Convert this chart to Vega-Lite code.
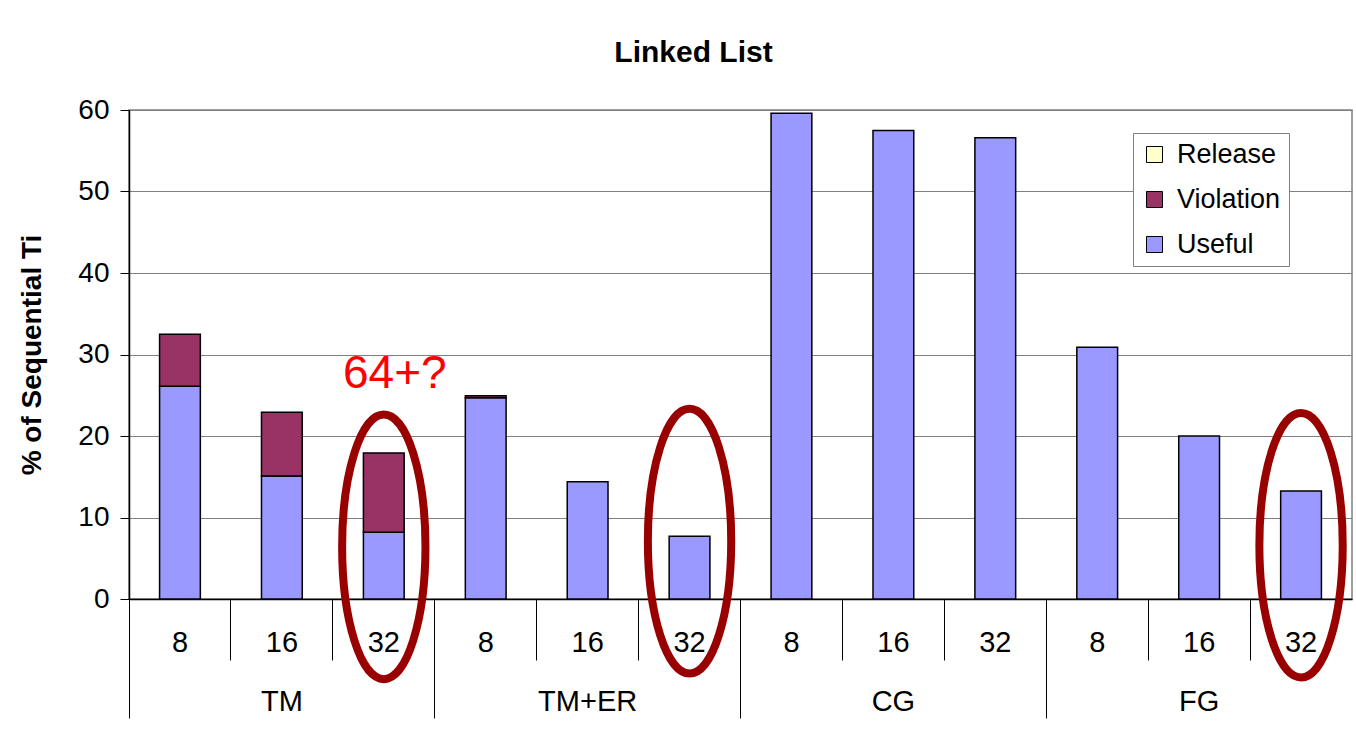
{
  "$schema": "https://vega.github.io/schema/vega-lite/v6.json",
  "autosize": "none",
  "width": 1223,
  "height": 489,
  "padding": {"left": 129, "top": 110, "right": 4, "bottom": 147},
  "background": "white",
  "config": {
    "font": "Liberation Sans",
    "view": {"stroke": "#808080", "strokeWidth": 1.5}
  },
  "title": {
    "text": "Linked List",
    "font": "Liberation Sans",
    "fontSize": 30,
    "fontWeight": "bold",
    "color": "black",
    "anchor": "middle",
    "frame": "group",
    "dx": -47,
    "baseline": "alphabetic",
    "offset": 4
  },
  "datasets": {
    "bars": [
      {"key": "TM|8", "series": "Useful", "value": 26.1},
      {"key": "TM|8", "series": "Violation", "value": 6.4},
      {"key": "TM|16", "series": "Useful", "value": 15.1},
      {"key": "TM|16", "series": "Violation", "value": 7.8},
      {"key": "TM|32", "series": "Useful", "value": 8.2},
      {"key": "TM|32", "series": "Violation", "value": 9.7},
      {"key": "TM+ER|8", "series": "Useful", "value": 24.7},
      {"key": "TM+ER|8", "series": "Violation", "value": 0.25},
      {"key": "TM+ER|16", "series": "Useful", "value": 14.4},
      {"key": "TM+ER|32", "series": "Useful", "value": 7.7},
      {"key": "CG|8", "series": "Useful", "value": 59.6},
      {"key": "CG|16", "series": "Useful", "value": 57.5},
      {"key": "CG|32", "series": "Useful", "value": 56.6},
      {"key": "FG|8", "series": "Useful", "value": 30.9},
      {"key": "FG|16", "series": "Useful", "value": 20.0},
      {"key": "FG|32", "series": "Useful", "value": 13.25}
    ],
    "groups": [
      {"group": "TM"}, {"group": "TM+ER"}, {"group": "CG"}, {"group": "FG"}
    ],
    "ellipses": [
      {"key": "TM|32", "yc": 6.4},
      {"key": "TM+ER|32", "yc": 7.1},
      {"key": "FG|32", "yc": 6.6}
    ],
    "notes": [
      {"key": "TM|32", "y": 27.6, "label": "64+?"}
    ]
  },
  "resolve": {"scale": {"x": "independent"}, "axis": {"x": "independent"}},
  "layer": [
    {
      "layer": [
        {
          "data": {"name": "bars"},
          "mark": {"type": "bar", "width": {"band": 0.4}, "stroke": "black", "strokeWidth": 1.5},
          "encoding": {
            "x": {
              "field": "key",
              "type": "nominal",
              "scale": {
                "domain": ["TM|8", "TM|16", "TM|32", "TM+ER|8", "TM+ER|16", "TM+ER|32", "CG|8", "CG|16", "CG|32", "FG|8", "FG|16", "FG|32"],
                "paddingInner": 0,
                "paddingOuter": 0
              },
              "axis": {
                "orient": "bottom",
                "title": null,
                "labelExpr": "split(datum.value, '|')[1]",
                "labelAngle": 0,
                "labelFontSize": 29,
                "labelColor": "black",
                "labelPadding": -32,
                "bandPosition": 0,
                "tickSize": 61,
                "tickColor": "black",
                "tickWidth": 1,
                "domainColor": "black",
                "domainWidth": 1.5,
                "grid": false
              }
            },
            "y": {
              "field": "value",
              "type": "quantitative",
              "stack": "zero",
              "scale": {"domain": [0, 60], "nice": false},
              "axis": {
                "values": [0, 10, 20, 30, 40, 50, 60],
                "title": "% of Sequential Ti",
                "titleFontSize": 28,
                "titleFontWeight": "bold",
                "titleColor": "black",
                "titlePadding": 31,
                "labelFontSize": 28,
                "labelColor": "black",
                "labelPadding": 11,
                "tickSize": 9,
                "tickColor": "black",
                "domainColor": "black",
                "domainWidth": 1.5,
                "gridColor": "#808080",
                "gridWidth": 1.2
              }
            },
            "color": {
              "field": "series",
              "type": "nominal",
              "scale": {
                "domain": ["Release", "Violation", "Useful"],
                "range": ["#FFFFCC", "#993366", "#9999FF"]
              },
              "legend": {
                "orient": "none",
                "legendX": 1004,
                "legendY": 23,
                "title": null,
                "fillColor": "white",
                "strokeColor": "#808080",
                "padding": 8,
                "symbolType": "square",
                "symbolSize": 256,
                "symbolStrokeColor": "black",
                "symbolStrokeWidth": 1,
                "symbolOpacity": 1,
                "labelFontSize": 27,
                "labelColor": "black",
                "labelOffset": 9,
                "rowPadding": 17
              }
            },
            "order": {"field": "series", "sort": "ascending"}
          }
        },
        {
          "data": {"name": "ellipses"},
          "mark": {
            "type": "point",
            "shape": "M 0,-1 A 0.315,1 0 1,1 0,1 A 0.315,1 0 1,1 0,-1 Z",
            "filled": false,
            "color": "#990000",
            "strokeWidth": 8,
            "size": 70000,
            "opacity": 1
          },
          "encoding": {
            "x": {"field": "key", "type": "nominal"},
            "y": {"field": "yc", "type": "quantitative"}
          }
        },
        {
          "data": {"name": "notes"},
          "mark": {
            "type": "text",
            "fontSize": 46,
            "color": "#FF0000",
            "align": "center",
            "baseline": "middle",
            "dx": 11
          },
          "encoding": {
            "x": {"field": "key", "type": "nominal"},
            "y": {"field": "y", "type": "quantitative"},
            "text": {"field": "label"}
          }
        }
      ]
    },
    {
      "data": {"name": "groups"},
      "mark": {"type": "rule", "opacity": 0},
      "encoding": {
        "x": {
          "field": "group",
          "type": "nominal",
          "scale": {"domain": ["TM", "TM+ER", "CG", "FG"], "paddingInner": 0, "paddingOuter": 0},
          "axis": {
            "orient": "bottom",
            "title": null,
            "labelAngle": 0,
            "labelFontSize": 29,
            "labelColor": "black",
            "labelPadding": -31,
            "bandPosition": 0,
            "tickSize": 119,
            "tickColor": "black",
            "tickWidth": 1,
            "domain": false,
            "grid": false
          }
        }
      }
    }
  ]
}
